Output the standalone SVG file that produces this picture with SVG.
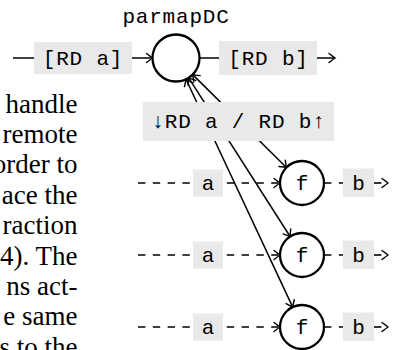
<svg xmlns="http://www.w3.org/2000/svg" width="393" height="350" viewBox="0 0 393 350">
<defs>
<style>
.mono{font-family:"Liberation Mono","DejaVu Sans Mono",monospace;font-size:21px;letter-spacing:0.8px;fill:#000;text-anchor:middle}
.para{font-family:"Liberation Serif","DejaVu Serif",serif;font-size:27px;fill:#000;text-anchor:end}
.lbl{fill:#e9e9e9;stroke:none}
.ln{fill:none;stroke:#000;stroke-width:1.5}
.dash{fill:none;stroke:#000;stroke-width:1.6;stroke-dasharray:7.4 7.4}
.node{fill:#fff;stroke:#000;stroke-width:2.3}
</style>
<marker id="to" viewBox="-8 -6 10 12" refX="0" refY="0" markerWidth="10" markerHeight="12" markerUnits="userSpaceOnUse" orient="auto-start-reverse" overflow="visible">
<path d="M-6,-4.5 Q-1.5,-1 0,0 Q-1.5,1 -6,4.5" fill="none" stroke="#000" stroke-width="1.4" stroke-linecap="round"/>
</marker>
</defs>
<rect width="393" height="350" fill="#fff"/>
<g id="paragraph">
<text class="para" x="77.5" y="112.5">handle</text>
<text class="para" x="77.5" y="142.9">remote</text>
<text class="para" x="77.5" y="173.3">order to</text>
<text class="para" x="77.5" y="203.7">ace the</text>
<text class="para" x="77.5" y="234.1">raction</text>
<text class="para" x="77.5" y="264.5">4). The</text>
<text class="para" x="77.5" y="294.9">ns act-</text>
<text class="para" x="77.5" y="325.3">e same</text>
<text class="para" x="77.5" y="355.7">s to the</text>
</g>
<g id="connectors">
<line class="ln" x1="13" y1="58" x2="152.5" y2="58" marker-end="url(#to)"/>
<line class="ln" x1="199.5" y1="58" x2="335" y2="58" marker-end="url(#to)"/>
<line class="ln" x1="192.7" y1="74.6" x2="286.4" y2="167.5" marker-start="url(#to)" marker-end="url(#to)"/>
<line class="ln" x1="188.7" y1="77.8" x2="290.1" y2="236.5" marker-start="url(#to)" marker-end="url(#to)"/>
<line class="ln" x1="186" y1="79.3" x2="292.7" y2="307.1" marker-start="url(#to)" marker-end="url(#to)"/>
<line class="dash" x1="138" y1="183" x2="280" y2="183" marker-end="url(#to)"/>
<line class="dash" x1="138" y1="255" x2="280" y2="255" marker-end="url(#to)"/>
<line class="dash" x1="138" y1="327" x2="280" y2="327" marker-end="url(#to)"/>
<line class="dash" x1="324" y1="183" x2="343" y2="183"/>
<line class="dash" x1="374" y1="183" x2="388" y2="183" marker-end="url(#to)"/>
<line class="dash" x1="324" y1="255" x2="343" y2="255"/>
<line class="dash" x1="374" y1="255" x2="388" y2="255" marker-end="url(#to)"/>
<line class="dash" x1="324" y1="327" x2="343" y2="327"/>
<line class="dash" x1="374" y1="327" x2="388" y2="327" marker-end="url(#to)"/>
</g>
<g id="parmapDC">
<circle class="node" cx="176" cy="58" r="23.5"/>
<text class="mono" x="176" y="22.5">parmapDC</text>
</g>
<g id="label-rd-a">
<rect class="lbl" x="34" y="42" width="98" height="32"/>
<text class="mono" x="83" y="65">[RD a]</text>
</g>
<g id="label-rd-b">
<rect class="lbl" x="219" y="41" width="98" height="34"/>
<text class="mono" x="268.5" y="65">[RD b]</text>
</g>
<g id="label-rd-ab">
<rect class="lbl" x="143" y="102" width="191" height="39"/>
<text class="mono" x="238.5" y="128">↓RD a / RD b↑</text>
</g>
<g id="f1">
<circle class="node" cx="302" cy="183" r="22"/>
<text class="mono" x="302.4" y="190">f</text>
</g>
<g id="f2">
<circle class="node" cx="302" cy="255" r="22"/>
<text class="mono" x="302.4" y="262">f</text>
</g>
<g id="f3">
<circle class="node" cx="302" cy="327" r="22"/>
<text class="mono" x="302.4" y="334">f</text>
</g>
<g id="a1"><rect class="lbl" x="193" y="169.5" width="30" height="27"/><text class="mono" x="208.4" y="190">a</text></g>
<g id="a2"><rect class="lbl" x="193" y="241.5" width="30" height="27"/><text class="mono" x="208.4" y="262">a</text></g>
<g id="a3"><rect class="lbl" x="193" y="313.5" width="30" height="27"/><text class="mono" x="208.4" y="334">a</text></g>
<g id="b1"><rect class="lbl" x="343" y="168.5" width="31" height="28.5"/><text class="mono" x="358.9" y="190">b</text></g>
<g id="b2"><rect class="lbl" x="343" y="240.5" width="31" height="28.5"/><text class="mono" x="358.9" y="262">b</text></g>
<g id="b3"><rect class="lbl" x="343" y="312.5" width="31" height="28.5"/><text class="mono" x="358.9" y="334">b</text></g>
</svg>
